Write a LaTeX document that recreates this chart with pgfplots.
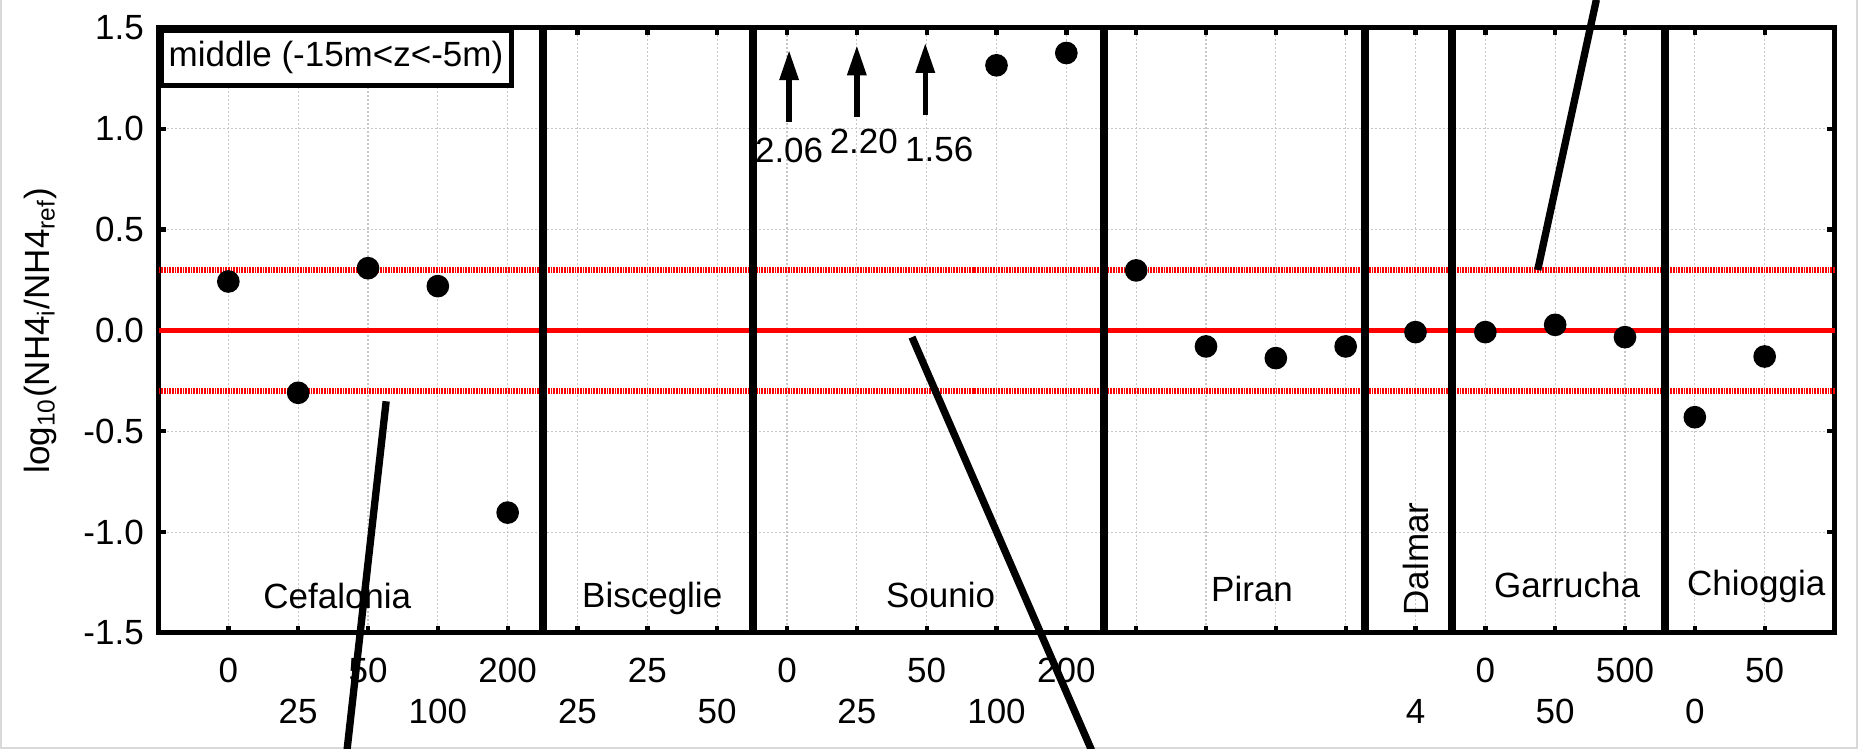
\documentclass[border=0pt]{standalone}
\usepackage{fontspec}
\setmainfont{Liberation Sans}
\usepackage{pgfplots}
\pgfplotsset{compat=1.18}
\usetikzlibrary{arrows.meta}

\pgfplotstableread{
x y
0 0.243
1 -0.309
2 0.309
3 0.220
4 -0.903
11 1.315
12 1.376
13 0.298
14 -0.079
15 -0.137
16 -0.079
17 -0.008
18 -0.008
19 0.028
20 -0.033
21 -0.430
22 -0.129
}\datatable

\begin{document}
\begin{tikzpicture}[font=\fontsize{10.5}{12.6}\selectfont]
\begin{axis}[
  scale only axis,
  width=502.8pt, height=181.5pt,
  xmin=-1, xmax=23, ymin=-1.5, ymax=1.5,
  clip=false,
  axis line style={line width=1.5pt, black},
  tick align=inside,
  tick pos=both,
  major tick length=2.2pt,
  tick style={line width=1.3pt, black},
  xtick={0,...,22},
  xticklabels={0,,50,,200,,25,,0,,50,,200,,,,,,0,,500,,50},
  xticklabel style={anchor=center, yshift=-11.2pt},
  extra x ticks={1,3,5,7,9,11,17,19,21},
  extra x tick labels={25,100,25,50,25,100,4,50,0},
  extra x tick style={xticklabel style={yshift=-12.3pt}},
  ytick={-1.5,-1,-0.5,0,0.5,1,1.5},
  yticklabels={-1.5,-1.0,-0.5,0.0,0.5,1.0,1.5},
  yticklabel style={anchor=east, xshift=-0.9pt},
  grid=major,
  major grid style={line width=0.35pt, black!22, dash pattern=on 0.6pt off 0.6pt},
  ylabel={log\textsubscript{10}(NH4\textsubscript{i}/NH4\textsubscript{ref})},
  ylabel style={at={(axis description cs:-0.0706,0.5)}, anchor=center},
]
% bounding box and faint image border
\path (rel axis cs:-0.09457,-0.19174) rectangle (rel axis cs:1.01402,1.04628);
\draw[overlay, black!15, line width=0.6pt] (rel axis cs:-0.0940,1.04628) -- (rel axis cs:-0.0940,-0.1901) -- (rel axis cs:1.0134,-0.1901) -- (rel axis cs:1.0134,1.04628);

% reference lines
\addplot[red, line width=1.5pt] coordinates {(-1,0) (23,0)};
\addplot[red, line width=2pt, dash pattern=on 0.5pt off 0.3pt] coordinates {(-1,0.3) (23,0.3)};
\addplot[red, line width=2pt, dash pattern=on 0.5pt off 0.3pt] coordinates {(-1,-0.3) (23,-0.3)};

% separators
\addplot[black, line width=2.4pt] coordinates {(4.5,-1.5) (4.5,1.5)};
\addplot[black, line width=2.4pt] coordinates {(7.52,-1.5) (7.52,1.5)};
\addplot[black, line width=2.4pt] coordinates {(12.54,-1.5) (12.54,1.5)};
\addplot[black, line width=2.4pt] coordinates {(16.28,-1.5) (16.28,1.5)};
\addplot[black, line width=2.4pt] coordinates {(17.52,-1.5) (17.52,1.5)};
\addplot[black, line width=2.4pt] coordinates {(20.57,-1.5) (20.57,1.5)};

% data
\addplot[only marks, mark=*, mark size=3.2pt, black, mark options={fill=black}] table[x=x, y=y] {\datatable};

% off-scale arrows
\addplot[black, line width=1.6pt, -{Triangle[length=9pt,width=5.5pt]}] coordinates {(8.03,1.034) (8.03,1.39)};
\addplot[black, line width=1.6pt, -{Triangle[length=9pt,width=5.5pt]}] coordinates {(9.0,1.059) (9.0,1.414)};
\addplot[black, line width=1.6pt, -{Triangle[length=9pt,width=5.5pt]}] coordinates {(9.98,1.067) (9.98,1.426)};
\node[anchor=base] at (axis cs:8.03,0.835) {2.06};
\node[anchor=base] at (axis cs:9.10,0.880) {2.20};
\node[anchor=base] at (axis cs:10.18,0.839) {1.56};

% diagonal lines
\addplot[overlay, black, line width=2.2pt] coordinates {(2.26,-0.351) (1.70,-2.08)};
\addplot[overlay, black, line width=2.2pt] coordinates {(9.79,-0.033) (12.36,-2.08)};
\addplot[overlay, black, line width=2.2pt] coordinates {(18.75,0.30) (19.59,1.64)};

% group labels
\node[anchor=base] at (axis cs:1.56,-1.381) {Cefalonia};
\node[anchor=base] at (axis cs:6.07,-1.376) {Bisceglie};
\node[anchor=base] at (axis cs:10.2,-1.373) {Sounio};
\node[anchor=base] at (axis cs:14.66,-1.345) {Piran};
\node[rotate=90, anchor=center] at (axis cs:17.0,-1.133) {Dalmar};
\node[anchor=base] at (axis cs:19.17,-1.323) {Garrucha};
\node[anchor=base] at (axis cs:21.88,-1.315) {Chioggia};

% legend box
\node[draw, fill=white, line width=1.5pt, anchor=north west, minimum width=105pt, minimum height=16.2pt, inner xsep=2pt] at (rel axis cs:0,1) {middle (-15m<z<-5m)};
\end{axis}
\end{tikzpicture}
\end{document}
